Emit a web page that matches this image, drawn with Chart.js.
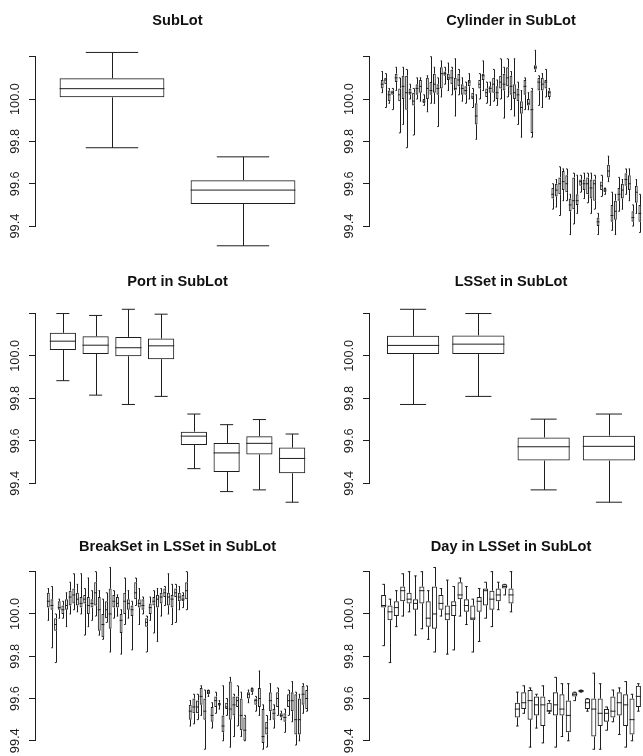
<!DOCTYPE html>
<html><head><meta charset="utf-8">
<script src="https://cdn.jsdelivr.net/npm/chart.js@4/dist/chart.umd.min.js"></script>
<style>
html,body{margin:0;padding:0;background:#fff;overflow:hidden;width:643px;height:756px;}
.panel{position:absolute;}
</style></head><body>
<div class="panel" style="left:0px;top:0px;width:321px;height:260px"><canvas id="c1"></canvas></div>
<div class="panel" style="left:321px;top:0px;width:340px;height:260px"><canvas id="c2"></canvas></div>
<div class="panel" style="left:0px;top:260px;width:321px;height:250px"><canvas id="c3"></canvas></div>
<div class="panel" style="left:321px;top:260px;width:340px;height:250px"><canvas id="c4"></canvas></div>
<div class="panel" style="left:0px;top:510px;width:321px;height:246px"><canvas id="c5"></canvas></div>
<div class="panel" style="left:321px;top:510px;width:340px;height:246px"><canvas id="c6"></canvas></div>
<script>
// ---------- tick labels ----------
const yTickValues = [99.4, 99.6, 99.8, 100.0, 100.2];
const yTickLabels = ['99.4', '99.6', '99.8', '100.0', ''];

// ---------- SubLot ----------
const subLotLow  = [99.77, 99.307];
const subLotQ1   = [100.008, 99.504];
const subLotMed  = [100.049, 99.57];
const subLotQ3   = [100.098, 99.617];
const subLotHigh = [100.22, 99.727];

// ---------- Cylinder in SubLot ----------
const cylLow = [100.03,99.96,99.98,99.95,100.04,99.84,99.88,99.77,100.00,99.83,100.00,99.99,99.97,99.94,99.98,99.98,99.87,100.01,100.07,100.04,100.02,99.92,100.02,99.99,99.98,100.00,99.96,99.81,100.00,100.04,99.98,99.97,99.99,99.97,100.00,99.91,100.01,99.95,99.92,99.88,99.82,99.95,99.95,99.82,100.13,99.97,99.96,100.01,100.00,
 99.48,99.49,99.45,99.52,99.52,99.36,99.41,99.46,99.56,99.53,99.51,99.46,99.48,99.36,99.54,99.55,99.61,99.38,99.36,99.47,99.48,99.55,99.52,99.40,99.46,99.37];
const cylQ1 = [100.05,100.07,99.99,100.02,100.08,99.99,100.00,99.95,100.02,99.97,100.02,100.03,99.98,100.00,100.02,100.03,100.02,100.05,100.11,100.09,100.07,100.04,100.06,100.02,100.02,100.06,100.00,99.88,100.05,100.09,100.01,100.03,100.03,100.00,100.05,100.04,100.06,100.02,100.00,99.99,99.93,100.02,99.97,99.84,100.14,100.04,100.04,100.05,100.01,
 99.53,99.54,99.55,99.57,99.56,99.47,99.48,99.50,99.59,99.57,99.55,99.53,99.52,99.40,99.57,99.56,99.63,99.42,99.43,99.52,99.53,99.59,99.57,99.42,99.51,99.42];
const cylMed = [100.07,100.09,100.02,100.03,100.10,100.02,100.06,100.03,100.03,99.99,100.05,100.06,99.99,100.05,100.04,100.07,100.05,100.12,100.12,100.10,100.10,100.05,100.09,100.05,100.04,100.08,100.01,99.92,100.07,100.11,100.03,100.05,100.07,100.03,100.08,100.07,100.10,100.06,100.03,100.02,99.96,100.06,99.98,99.95,100.15,100.08,100.07,100.08,100.03,
 99.55,99.57,99.60,99.61,99.60,99.50,99.52,99.52,99.61,99.60,99.60,99.58,99.60,99.42,99.59,99.57,99.66,99.45,99.47,99.55,99.57,99.62,99.60,99.44,99.56,99.46];
const cylQ3 = [100.09,100.10,100.04,100.04,100.12,100.05,100.11,100.11,100.05,100.03,100.07,100.09,100.00,100.10,100.08,100.12,100.07,100.15,100.13,100.12,100.14,100.10,100.12,100.07,100.06,100.09,100.03,99.98,100.09,100.12,100.05,100.06,100.10,100.06,100.11,100.12,100.15,100.11,100.07,100.05,99.99,100.09,100.00,100.04,100.16,100.10,100.10,100.09,100.04,
 99.58,99.60,99.63,99.66,99.64,99.53,99.63,99.55,99.62,99.62,99.63,99.62,99.62,99.44,99.61,99.58,99.69,99.50,99.52,99.58,99.60,99.65,99.64,99.47,99.59,99.50];
const cylHigh = [100.13,100.12,100.05,100.05,100.15,100.10,100.15,100.14,100.07,100.05,100.10,100.10,100.02,100.11,100.20,100.15,100.10,100.18,100.15,100.17,100.15,100.19,100.14,100.10,100.08,100.12,100.05,100.02,100.12,100.18,100.08,100.08,100.14,100.09,100.19,100.15,100.19,100.13,100.19,100.08,100.04,100.10,100.03,100.05,100.23,100.11,100.12,100.14,100.05,
 99.60,99.62,99.68,99.67,99.67,99.55,99.65,99.64,99.64,99.65,99.65,99.65,99.64,99.46,99.64,99.58,99.73,99.56,99.55,99.63,99.62,99.67,99.67,99.50,99.62,99.55];

// ---------- Port in SubLot ----------
const portLow  = [99.883, 99.815, 99.771, 99.809, 99.469, 99.361, 99.369, 99.311];
const portQ1   = [100.027, 100.009, 99.998, 99.984, 99.58, 99.453, 99.536, 99.447];
const portMed  = [100.069, 100.05, 100.038, 100.047, 99.622, 99.543, 99.588, 99.517];
const portQ3   = [100.108, 100.092, 100.089, 100.081, 99.643, 99.59, 99.621, 99.568];
const portHigh = [100.199, 100.19, 100.219, 100.196, 99.726, 99.676, 99.70, 99.632];

// ---------- LSSet in SubLot ----------
const lsLow  = [99.771, 99.809, 99.369, 99.311];
const lsQ1   = [100.008, 100.008, 99.507, 99.507];
const lsMed  = [100.049, 100.055, 99.572, 99.574];
const lsQ3   = [100.094, 100.096, 99.616, 99.624];
const lsHigh = [100.219, 100.199, 99.702, 99.726];

// ---------- BreakSet in LSSet in SubLot ----------
const brkLow = [99.97,99.84,99.77,99.98,99.98,99.94,100.00,100.02,100.01,100.00,99.90,99.94,99.97,99.99,99.90,99.88,99.96,99.82,99.98,99.99,99.81,99.95,99.98,99.83,100.04,99.95,100.00,99.82,99.97,99.91,99.87,99.99,100.04,100.00,99.95,99.96,100.02,100.03,100.02,
 99.47,99.48,99.50,99.52,99.36,99.61,99.46,99.53,99.55,99.40,99.52,99.37,99.42,99.47,99.42,99.40,99.58,99.62,99.54,99.52,99.36,99.37,99.50,99.46,99.52,99.50,99.44,99.52,99.49,99.38,99.40,99.53,99.54];
const brkQ1 = [100.03,100.02,99.92,100.02,100.00,100.02,100.04,100.05,100.04,100.03,100.05,100.00,100.03,100.04,99.92,99.89,99.98,99.93,100.03,100.03,99.91,100.00,100.02,99.99,100.07,100.03,100.02,99.94,100.00,100.04,100.03,100.05,100.08,100.04,100.03,100.08,100.06,100.06,100.07,
 99.50,99.53,99.53,99.57,99.50,99.62,99.49,99.56,99.57,99.44,99.55,99.50,99.52,99.56,99.45,99.40,99.60,99.63,99.57,99.56,99.39,99.43,99.54,99.50,99.56,99.51,99.49,99.56,99.54,99.43,99.43,99.57,99.55];
const brkMed = [100.06,100.04,99.95,100.03,100.02,100.04,100.08,100.09,100.07,100.05,100.07,100.04,100.05,100.10,100.02,99.95,100.02,100.00,100.06,100.05,99.97,100.06,100.05,100.02,100.10,100.05,100.04,99.96,100.03,100.06,100.07,100.08,100.10,100.08,100.07,100.10,100.08,100.07,100.11,
 99.54,99.56,99.56,99.61,99.54,99.63,99.52,99.59,99.57,99.47,99.56,99.55,99.57,99.59,99.52,99.45,99.62,99.64,99.59,99.60,99.42,99.46,99.59,99.53,99.60,99.52,99.51,99.59,99.59,99.50,99.50,99.62,99.60];
const brkQ3 = [100.10,100.07,99.98,100.06,100.04,100.07,100.11,100.12,100.10,100.08,100.09,100.08,100.07,100.15,100.08,100.00,100.06,100.12,100.09,100.08,100.00,100.10,100.07,100.04,100.15,100.07,100.07,99.98,100.05,100.08,100.09,100.10,100.12,100.10,100.09,100.12,100.10,100.09,100.15,
 99.57,99.60,99.59,99.65,99.60,99.64,99.56,99.61,99.58,99.52,99.58,99.68,99.61,99.61,99.60,99.51,99.63,99.65,99.60,99.65,99.55,99.49,99.63,99.55,99.63,99.53,99.53,99.62,99.63,99.62,99.60,99.66,99.64];
const brkHigh = [100.12,100.13,100.00,100.07,100.06,100.10,100.15,100.19,100.14,100.19,100.12,100.17,100.11,100.20,100.11,100.07,100.10,100.22,100.11,100.09,100.02,100.17,100.11,100.06,100.17,100.12,100.08,99.99,100.08,100.11,100.12,100.12,100.13,100.19,100.14,100.14,100.13,100.10,100.20,
 99.59,99.62,99.62,99.66,99.64,99.64,99.58,99.63,99.59,99.66,99.60,99.70,99.62,99.66,99.63,99.52,99.64,99.65,99.61,99.73,99.57,99.52,99.67,99.57,99.65,99.54,99.55,99.64,99.68,99.63,99.62,99.67,99.66];

// ---------- Day in LSSet in SubLot ----------
const dayLow = [99.85,99.77,99.94,99.99,100.01,99.90,99.93,99.88,99.82,99.99,99.81,99.83,99.99,99.95,99.82,99.87,99.98,99.94,100.02,100.09,100.01,
 99.47,99.53,99.37,99.46,99.39,99.53,99.37,99.42,99.40,99.59,99.63,99.54,99.36,99.36,99.45,99.49,99.43,99.37,99.40,99.54];
const dayQ1 = [100.03,99.97,99.99,100.06,100.05,100.02,100.05,99.94,99.93,100.02,99.97,99.99,100.07,100.01,99.97,100.01,100.04,100.02,100.06,100.12,100.05,
 99.51,99.55,99.50,99.52,99.47,99.54,99.52,99.52,99.44,99.61,99.63,99.55,99.42,99.47,99.49,99.51,99.52,99.47,99.43,99.56];
const dayMed = [100.04,100.01,100.03,100.11,100.07,100.05,100.11,99.98,100.00,100.05,100.00,100.04,100.09,100.04,99.98,100.06,100.11,100.07,100.09,100.13,100.09,
 99.55,99.58,99.59,99.57,99.57,99.54,99.57,99.55,99.52,99.62,99.635,99.58,99.55,99.53,99.53,99.54,99.58,99.57,99.50,99.61];
const dayQ3 = [100.09,100.04,100.06,100.13,100.10,100.07,100.13,100.06,100.13,100.09,100.04,100.06,100.15,100.07,100.04,100.08,100.12,100.11,100.12,100.14,100.12,
 99.58,99.63,99.64,99.61,99.61,99.58,99.63,99.62,99.59,99.63,99.64,99.60,99.60,99.60,99.55,99.61,99.63,99.62,99.60,99.66];
const dayHigh = [100.14,100.07,100.11,100.19,100.20,100.18,100.20,100.11,100.22,100.12,100.16,100.13,100.17,100.13,100.07,100.12,100.15,100.20,100.15,100.14,100.20,
 99.63,99.66,99.65,99.62,99.66,99.59,99.70,99.67,99.67,99.63,99.64,99.60,99.72,99.67,99.56,99.64,99.65,99.68,99.62,99.67];

// ---------- styling / layout ----------
const LINE = '#1e1e1e';
const FONT = "'Liberation Sans', Arial, Helvetica, sans-serif";
const colLeft  = {padL: 29, padR: 2, labelOff: 20.2};
const colRight = {padL: 42, padR: 9, labelOff: 20.5};
const row1 = {tTop: 12.04, tBot: 16.54, padB: 8.5, ymin: 99.28};
const row2 = {tTop: 13.24, tBot: 11.94, padB: 1.2, ymin: 99.28};
const row3 = {tTop: 27.74, tBot: 5.84, padB: 0, ymin: 99.328};
const YMAX = 100.25;

function boxPlugin(stats, labelOff) {
  return {
    id: 'boxWhiskers',
    afterDatasetsDraw(chart) {
      const ctx = chart.ctx, ys = chart.scales.y, area = chart.chartArea;
      const meta = chart.getDatasetMeta(0);
      ctx.save();
      ctx.strokeStyle = LINE;
      ctx.lineWidth = 1;
      ctx.beginPath();
      meta.data.forEach((bar, i) => {
        const x = Math.round(bar.x) + 0.5;
        const hw = bar.width / 2;
        const yl = ys.getPixelForValue(stats.low[i]);
        const yh = ys.getPixelForValue(stats.high[i]);
        const y1 = ys.getPixelForValue(stats.q1[i]);
        const y3 = ys.getPixelForValue(stats.q3[i]);
        const ym = ys.getPixelForValue(stats.med[i]);
        ctx.moveTo(x, y3); ctx.lineTo(x, yh);
        ctx.moveTo(x, y1); ctx.lineTo(x, yl);
        ctx.moveTo(bar.x - hw / 2, yh); ctx.lineTo(bar.x + hw / 2, yh);
        ctx.moveTo(bar.x - hw / 2, yl); ctx.lineTo(bar.x + hw / 2, yl);
        ctx.moveTo(bar.x - hw, ym); ctx.lineTo(bar.x + hw, ym);
      });
      ctx.stroke();
      // axis line between extreme ticks
      const ax = Math.round(area.left) - 0.5;
      ctx.beginPath();
      ctx.moveTo(ax, ys.getPixelForValue(yTickValues[0]));
      ctx.lineTo(ax, ys.getPixelForValue(yTickValues[yTickValues.length - 1]));
      ctx.stroke();
      // rotated tick labels
      ctx.fillStyle = '#1a1a1a';
      ctx.font = '12.8px ' + FONT;
      ctx.textAlign = 'center';
      ctx.textBaseline = 'middle';
      yTickValues.forEach((v, k) => {
        if (!yTickLabels[k]) return;
        ctx.save();
        ctx.translate(area.left - labelOff, ys.getPixelForValue(v));
        ctx.rotate(-Math.PI / 2);
        ctx.fillText(yTickLabels[k], 0, 0);
        ctx.restore();
      });
      ctx.restore();
    }
  };
}

function makePanel(id, title, col, row, low, q1, med, q3, high) {
  const n = q1.length;
  const positions = q1.map((v, i) => i + 1);
  const boxes = q1.map((v, i) => ({x: positions[i], y: [q1[i], q3[i]]}));
  return new Chart(document.getElementById(id), {
    type: 'bar',
    data: {
      datasets: [{
        data: boxes,
        backgroundColor: 'rgba(0,0,0,0)',
        borderColor: LINE,
        borderWidth: 1,
        borderSkipped: false,
        barPercentage: 0.8,
        categoryPercentage: 1.0
      }]
    },
    options: {
      responsive: true,
      maintainAspectRatio: false,
      animation: false,
      events: [],
      layout: {padding: {left: col.padL, right: col.padR, top: 0, bottom: row.padB}},
      scales: {
        x: {
          type: 'linear', display: false, offset: false, grid: {offset: false},
          min: 0.5 - 0.04 * n, max: n + 0.5 + 0.04 * n,
          afterBuildTicks: s => { s.ticks = positions.map(v => ({value: v})); }
        },
        y: {
          type: 'linear', min: row.ymin, max: YMAX,
          afterBuildTicks: s => { s.ticks = yTickValues.map(v => ({value: v})); },
          ticks: {display: false},
          grid: {display: true, drawOnChartArea: false, drawTicks: true, tickLength: 7,
                 color: LINE, tickColor: LINE, lineWidth: 1},
          border: {display: false}
        }
      },
      plugins: {
        legend: {display: false},
        tooltip: {enabled: false},
        title: {
          display: true, text: title, fullSize: false, color: '#111',
          font: {family: FONT, size: 14.6, weight: 'bold'},
          padding: {top: row.tTop, bottom: row.tBot}
        }
      }
    },
    plugins: [boxPlugin({low, q1, med, q3, high}, col.labelOff)]
  });
}

makePanel('c1', 'SubLot', colLeft, row1, subLotLow, subLotQ1, subLotMed, subLotQ3, subLotHigh);
makePanel('c2', 'Cylinder in SubLot', colRight, row1, cylLow, cylQ1, cylMed, cylQ3, cylHigh);
makePanel('c3', 'Port in SubLot', colLeft, row2, portLow, portQ1, portMed, portQ3, portHigh);
makePanel('c4', 'LSSet in SubLot', colRight, row2, lsLow, lsQ1, lsMed, lsQ3, lsHigh);
makePanel('c5', 'BreakSet in LSSet in SubLot', colLeft, row3, brkLow, brkQ1, brkMed, brkQ3, brkHigh);
makePanel('c6', 'Day in LSSet in SubLot', colRight, row3, dayLow, dayQ1, dayMed, dayQ3, dayHigh);
</script>
</body></html>
